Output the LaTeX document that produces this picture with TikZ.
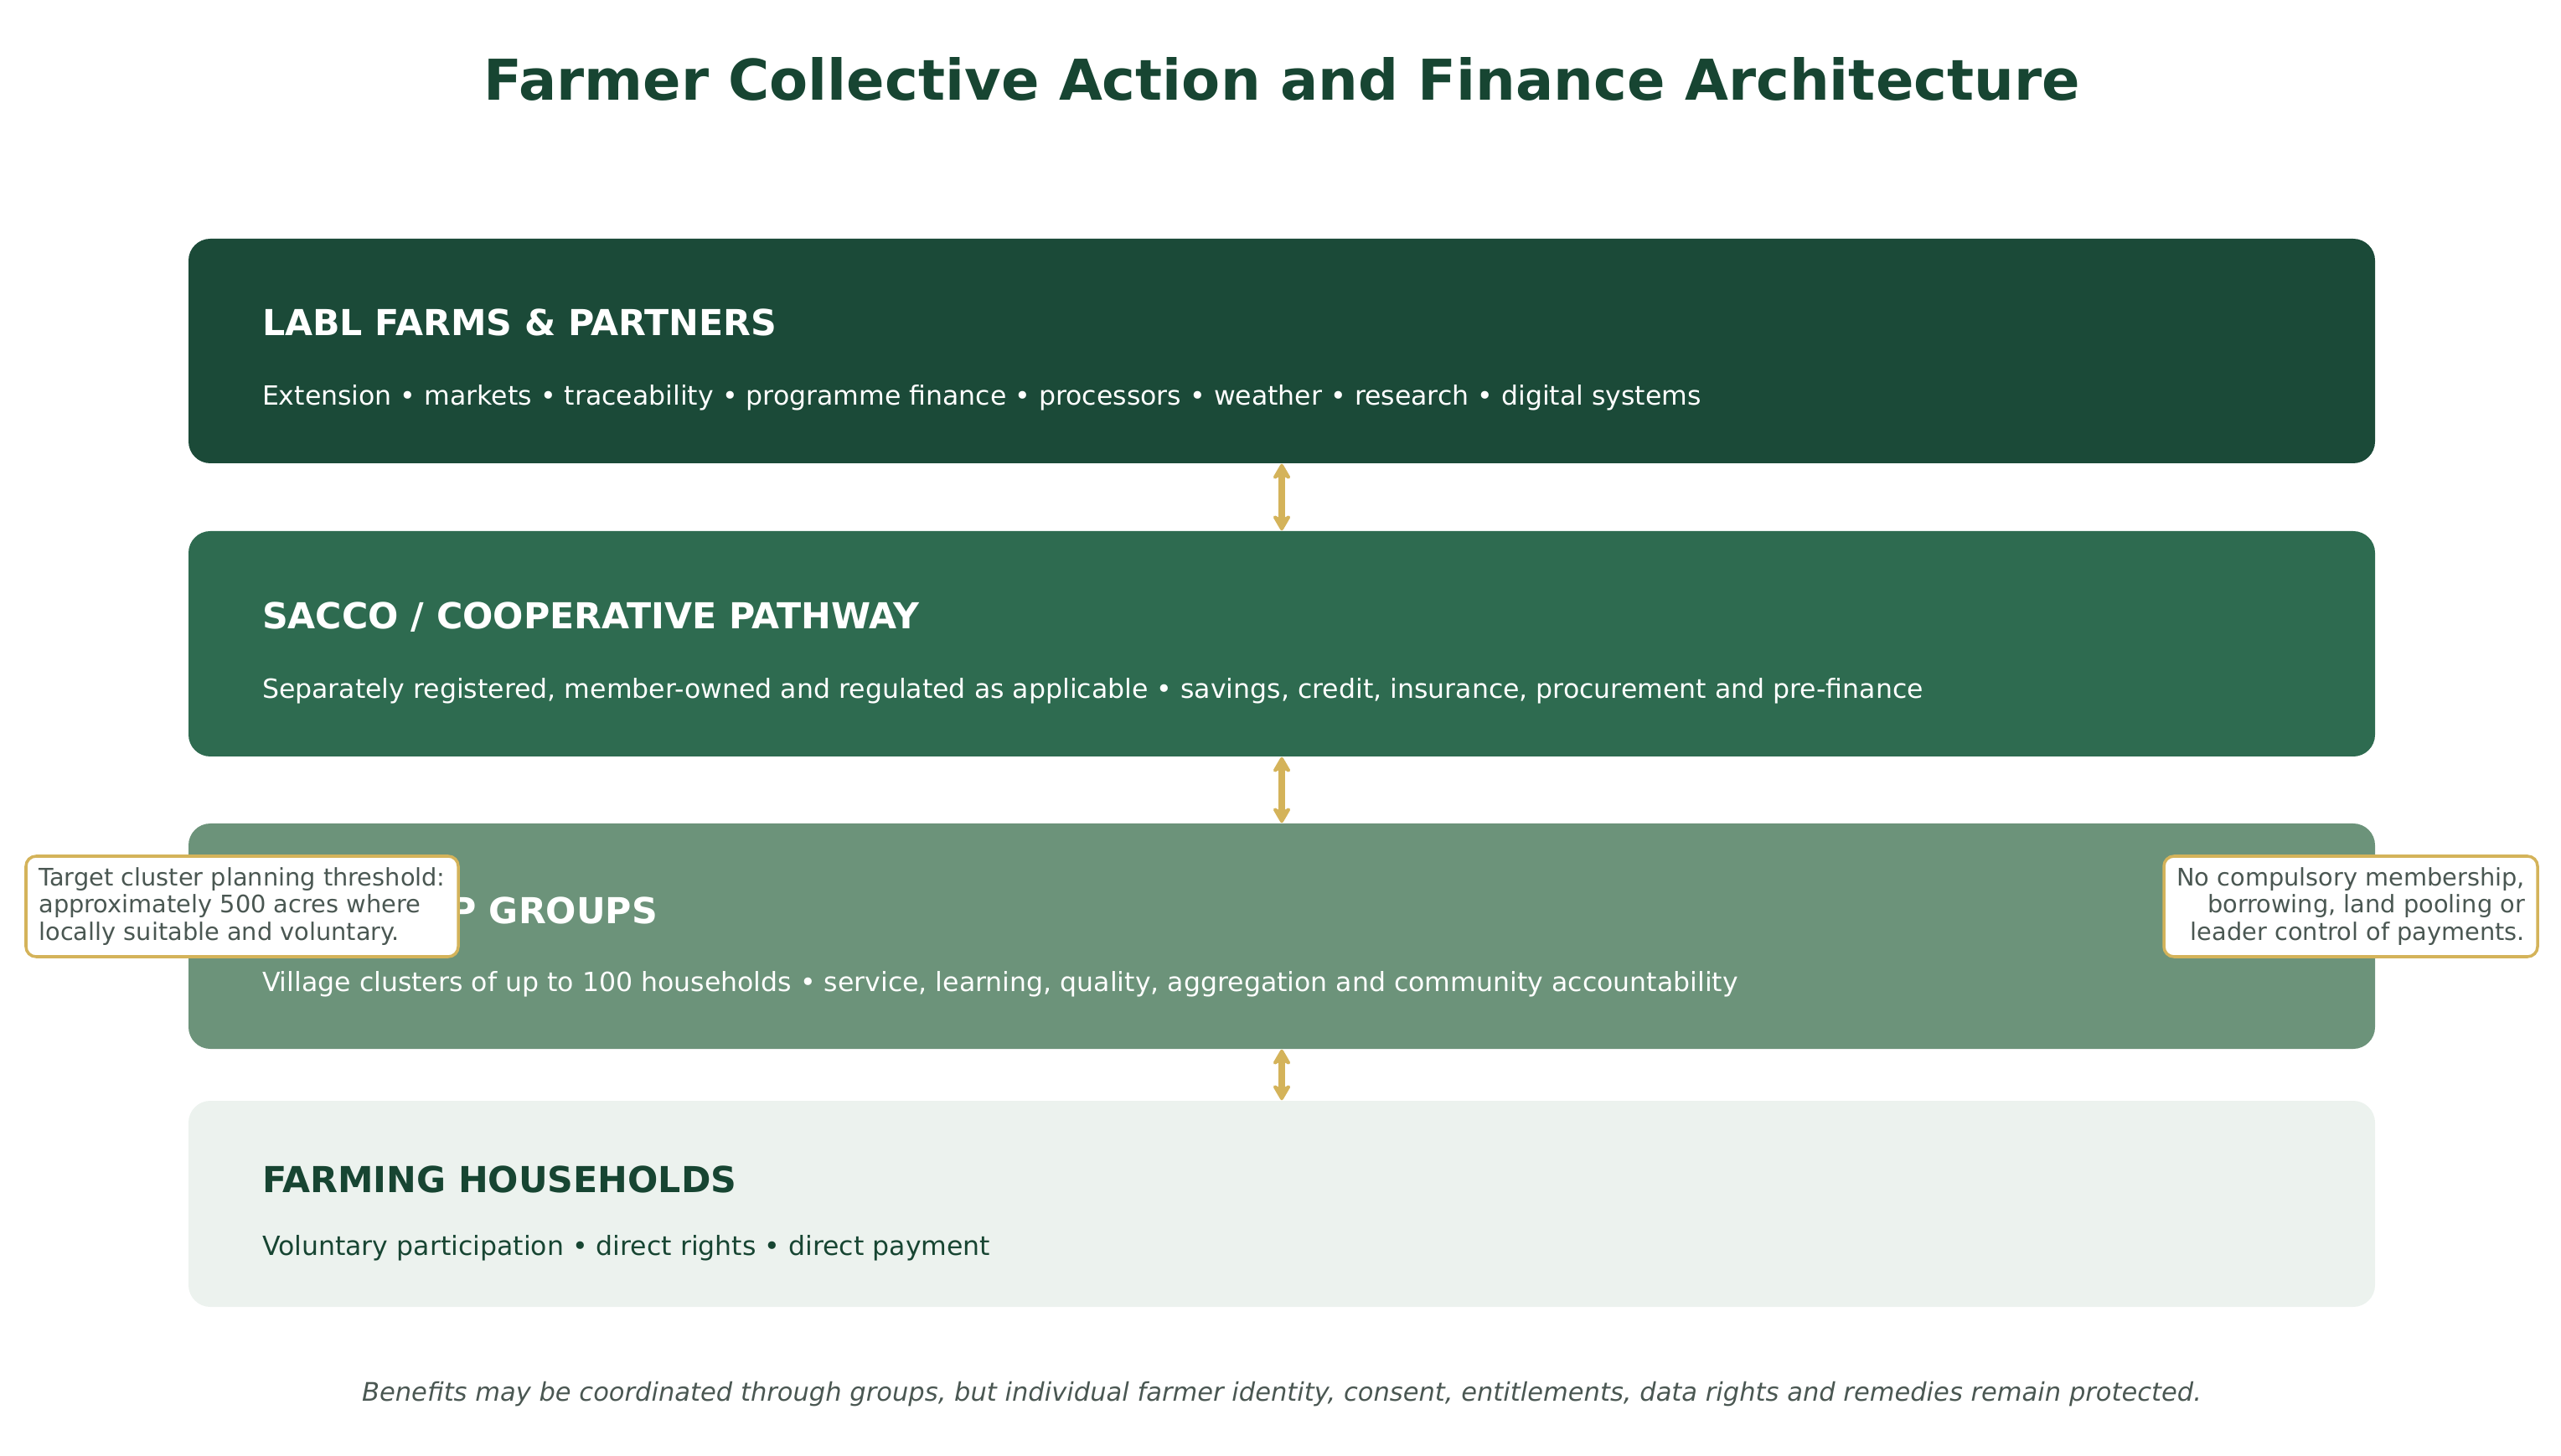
\documentclass[tikz,border=0pt]{standalone}
\usepackage{fontspec}
\setmainfont{DejaVu Sans}
\usetikzlibrary{arrows.meta,positioning}
\definecolor{deepgreen}{HTML}{174532}
\definecolor{tierone}{HTML}{1B4A38}
\definecolor{tiertwo}{HTML}{2E6B50}
\definecolor{tierthree}{HTML}{6C937A}
\definecolor{tierfour}{HTML}{ECF2EE}
\definecolor{gold}{HTML}{D4B35A}
\definecolor{slate}{HTML}{4A5752}
\begin{document}
\begin{tikzpicture}[>={Stealth[round,length=6.5pt,width=7.5pt]},
	tier/.style={rectangle,rounded corners=0.26cm,minimum width=26.1cm,inner sep=0},
	head/.style={anchor=west,inner sep=0,font=\fontsize{12.15}{14}\selectfont\bfseries},
	body/.style={anchor=west,inner sep=0,font=\fontsize{8.98}{10}\selectfont},
	link/.style={<->,gold,line width=2.2pt},
	note/.style={rectangle,rounded corners=0.12cm,draw=gold,line width=1pt,fill=white,text=slate,
		inner sep=0,minimum height=1.2cm,font=\fontsize{8.2}{9.3}\selectfont}]
	\useasboundingbox (0,0) rectangle (30.57,17.37);
	\node[text=deepgreen,font=\fontsize{19.1}{22}\selectfont\bfseries] (title) at (15.3,16.43) {Farmer Collective Action and Finance Architecture};
	% four tiers
	\node[tier,fill=tierone,minimum height=2.68cm] (b1) at (15.3,13.18) {};
	\node[tier,fill=tiertwo,minimum height=2.69cm] (b2) at (15.3,9.685) {};
	\node[tier,fill=tierthree,minimum height=2.69cm] (b3) at (15.3,6.195) {};
	\node[tier,fill=tierfour,minimum height=2.46cm] (b4) at (15.3,3.00) {};
	\node[head,white] (h1) at ([xshift=0.88cm,yshift=0.34cm]b1.west) {LABL FARMS \& PARTNERS};
	\node[body,white] (t1) at ([xshift=0.88cm,yshift=-0.56cm]b1.west) {Extension • markets • traceability • programme finance • processors • weather • research • digital systems};
	\node[head,white] (h2) at ([xshift=0.88cm,yshift=0.315cm]b2.west) {SACCO / COOPERATIVE PATHWAY};
	\node[body,white] (t2) at ([xshift=0.88cm,yshift=-0.565cm]b2.west) {Separately registered, member-owned and regulated as applicable • savings, credit, insurance, procurement and pre-finance};
	\node[head,white] (h3) at ([xshift=0.88cm,yshift=0.305cm]b3.west) {SELF-HELP GROUPS};
	\node[body,white] (t3) at ([xshift=0.88cm,yshift=-0.575cm]b3.west) {Village clusters of up to 100 households • service, learning, quality, aggregation and community accountability};
	\node[head,deepgreen] (h4) at ([xshift=0.88cm,yshift=0.29cm]b4.west) {FARMING HOUSEHOLDS};
	\node[body,deepgreen] (t4) at ([xshift=0.88cm,yshift=-0.53cm]b4.west) {Voluntary participation • direct rights • direct payment};
	% links between tiers
	\draw[link] (b1.south) -- (b2.north);
	\draw[link] (b2.south) -- (b3.north);
	\draw[link] (b3.south) -- (b4.north);
	% side notes
	\node[note,minimum width=5.16cm,align=left] (nl) at (2.89,6.55) {Target cluster planning threshold:\\approximately 500 acres where\\locally suitable and voluntary.};
	\node[note,minimum width=4.46cm,align=right] (nr) at (28.06,6.55) {No compulsory membership,\\borrowing, land pooling or\\leader control of payments.};
	\node[text=slate,font=\fontsize{8.69}{10}\selectfont\itshape] (foot) at (15.3,0.73) {Benefits may be coordinated through groups, but individual farmer identity, consent, entitlements, data rights and remedies remain protected.};
\end{tikzpicture}
\end{document}
